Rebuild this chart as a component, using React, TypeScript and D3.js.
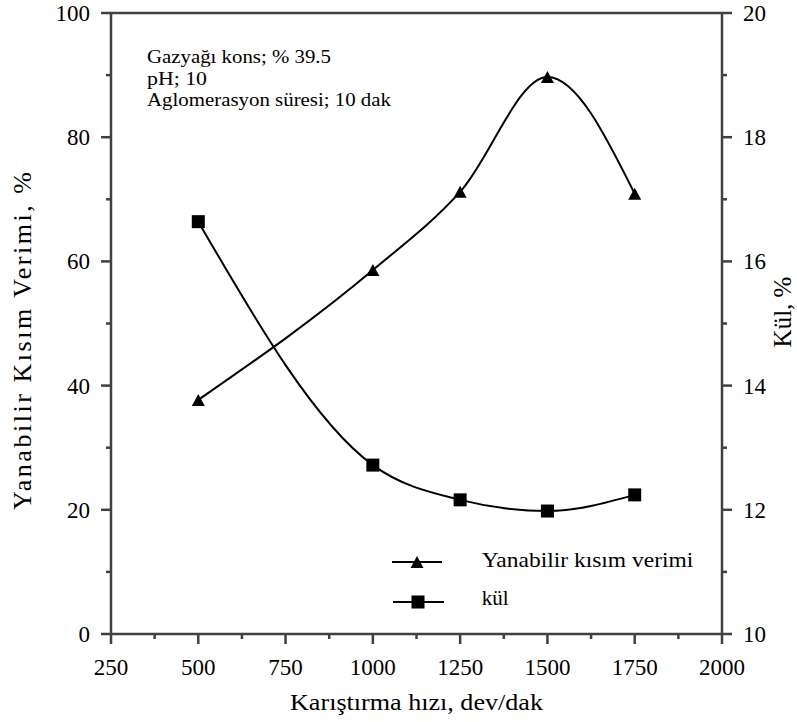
import React from "react";
import * as d3 from "d3";

const speeds = [500, 1000, 1250, 1500, 1750];
const yieldVals = [37.7, 58.6, 71.2, 89.7, 70.9];
const ashVals = [16.64, 12.72, 12.16, 11.98, 12.24];
const xTicks = [250, 500, 750, 1000, 1250, 1500, 1750, 2000];
const yLeftTicks = [0, 20, 40, 60, 80, 100];
const yRightTicks = [10, 12, 14, 16, 18, 20];
const notes = ["Gazyağı kons; % 39.5", "pH; 10", "Aglomerasyon süresi; 10 dak"];
const noteWidths = [184, 60, 244];
const legendLabels = ["Yanabilir kısım verimi", "kül"];

const W = 797, H = 722;
const L = 111, R = 722, T = 13, B = 634;
const FONT = "Liberation Serif, Times New Roman, DejaVu Serif, serif";
const AX = "#404040";

export default function App() {
  const x = d3.scaleLinear().domain([250, 2000]).range([L, R]);
  const yL = d3.scaleLinear().domain([0, 100]).range([B, T]);
  const yR = d3.scaleLinear().domain([10, 20]).range([B, T]);

  const curve = d3.curveMonotoneX;
  const yieldLine = d3.line<number>().x((_, i) => x(speeds[i])).y((d) => yL(d)).curve(curve);
  const ashLine = d3.line<number>().x((_, i) => x(speeds[i])).y((d) => yR(d)).curve(curve);

  const xMinor = d3.range(375, 2000, 250);
  const yLMinor = d3.range(10, 100, 20);
  const yRMinor = d3.range(11, 20, 2);

  const tri = (cx: number, cy: number) => {
    const s = 13;
    const h = 12;
    return `M${cx},${cy - h / 2}L${cx + s / 2},${cy + h / 2}L${cx - s / 2},${cy + h / 2}Z`;
  };

  return (
    <svg width={W} height={H} style={{ position: "absolute", left: 0, top: 0, background: "#fff", fontFamily: FONT }}>
      <rect x={0} y={0} width={W} height={H} fill="#fff" />
      <g stroke={AX} strokeWidth={2.5} fill="none">
        <line x1={L} y1={T - 1} x2={L} y2={B + 1} />
        <line x1={R} y1={T - 1} x2={R} y2={B + 1} />
        <line x1={L} y1={T} x2={R} y2={T} />
        <line x1={L} y1={B} x2={R} y2={B} />
        {yLeftTicks.map((t) => (
          <line key={"lt" + t} x1={L - 10} x2={L} y1={yL(t)} y2={yL(t)} />
        ))}
        {yLMinor.map((t) => (
          <line key={"lm" + t} x1={L - 5} x2={L} y1={yL(t)} y2={yL(t)} />
        ))}
        {yRightTicks.map((t) => (
          <line key={"rt" + t} x1={R} x2={R + 10} y1={yR(t)} y2={yR(t)} />
        ))}
        {yRMinor.map((t) => (
          <line key={"rm" + t} x1={R} x2={R + 5} y1={yR(t)} y2={yR(t)} />
        ))}
        {xTicks.map((t) => (
          <line key={"xt" + t} x1={x(t)} x2={x(t)} y1={B} y2={B + 10} />
        ))}
        {xMinor.map((t) => (
          <line key={"xm" + t} x1={x(t)} x2={x(t)} y1={B} y2={B + 5} />
        ))}
      </g>
      <g fontSize={23} fill="#000" style={{ fontFamily: FONT }}>
        {yLeftTicks.map((t) => (
          <text key={"ll" + t} x={L - 21} y={yL(t)} dy="0.35em" textAnchor="end">{t}</text>
        ))}
        {yRightTicks.map((t) => (
          <text key={"rl" + t} x={R + 21} y={yR(t)} dy="0.35em" textAnchor="start">{t}</text>
        ))}
        {xTicks.map((t) => (
          <text key={"xl" + t} x={x(t)} y={675} textAnchor="middle">{t}</text>
        ))}
      </g>
      <g style={{ fontFamily: FONT }} fill="#000">
        <text x={416.5} y={710} fontSize={23} textAnchor="middle" textLength={253} lengthAdjust="spacingAndGlyphs">Karıştırma hızı, dev/dak</text>
        <text transform="translate(31,341) rotate(-90)" fontSize={26} textAnchor="middle" textLength={338} lengthAdjust="spacing">{"Yanabilir  Kısım  Verimi, %"}</text>
        <text transform="translate(791,312) rotate(-90)" fontSize={25} textAnchor="middle">{"Kül, %"}</text>
        {notes.map((n, i) => (
          <text key={n} x={147} y={63 + i * 21.5} fontSize={19} textLength={noteWidths[i]} lengthAdjust="spacingAndGlyphs">{n}</text>
        ))}
        <text x={481.7} y={567} fontSize={21} textLength={211.6} lengthAdjust="spacingAndGlyphs">{legendLabels[0]}</text>
        <text x={481.7} y={605} fontSize={21}>{legendLabels[1]}</text>
      </g>
      <path d={yieldLine(yieldVals) || ""} fill="none" stroke="#000" strokeWidth={2} />
      <path d={ashLine(ashVals) || ""} fill="none" stroke="#000" strokeWidth={2} />
      {yieldVals.map((v, i) => (
        <path key={"tr" + i} d={tri(x(speeds[i]), yL(v))} fill="#000" />
      ))}
      {ashVals.map((v, i) => (
        <rect key={"sq" + i} x={x(speeds[i]) - 6.5} y={yR(v) - 6.5} width={13} height={13} fill="#000" />
      ))}
      <line x1={392} x2={442} y1={562} y2={562} stroke="#000" strokeWidth={2} />
      <path d={tri(417, 562)} fill="#000" />
      <line x1={393} x2={444} y1={602} y2={602} stroke="#000" strokeWidth={2} />
      <rect x={418 - 6.5} y={602 - 6.5} width={13} height={13} fill="#000" />
    </svg>
  );
}
